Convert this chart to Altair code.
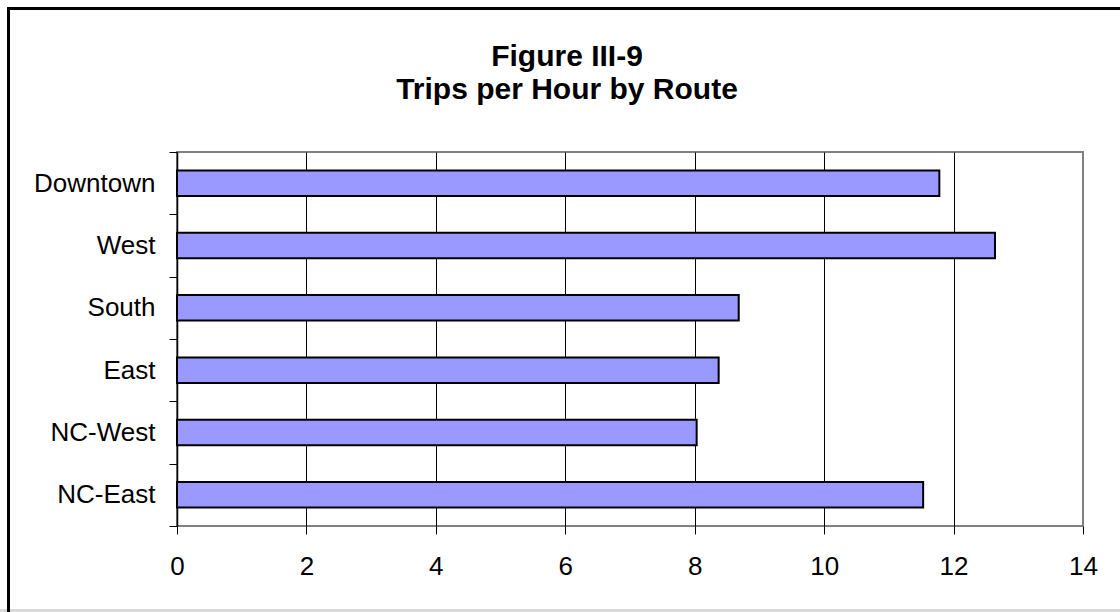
import altair as alt
import pandas as pd

routes = ["Downtown", "West", "South", "East", "NC-West", "NC-East"]
trips_per_hour = [11.78, 12.64, 8.68, 8.37, 8.03, 11.53]
x_ticks = [0, 2, 4, 6, 8, 10, 12, 14]
title_lines = ["Figure III-9", "Trips per Hour by Route"]

FONT = "Liberation Sans"

df = pd.DataFrame({"route": routes, "trips": trips_per_hour})
one = pd.DataFrame({"k": [0]})

bars = alt.Chart(df).mark_bar(
    color="#9999FF", stroke="black", strokeWidth=2,
    height=alt.RelativeBandSize(0.41),
).encode(
    x=alt.X("trips:Q",
            scale=alt.Scale(domain=[0, 14], nice=False),
            axis=alt.Axis(values=x_ticks, title=None, domain=False,
                          grid=True, gridColor="black", gridWidth=1,
                          gridOpacity={"condition": {"test": "datum.value === 0 || datum.value === 14", "value": 0}, "value": 1},
                          tickColor="black", tickSize=8, tickWidth=1,
                          labelFont=FONT, labelFontSize=26, labelColor="black",
                          labelPadding=19, labelFlush=False)),
    y=alt.Y("route:N", sort=routes,
            scale=alt.Scale(paddingInner=0, paddingOuter=0),
            axis=alt.Axis(title=None, grid=False, tickBand="extent",
                          domainColor="black", domainWidth=1.5,
                          tickColor="black", tickSize=8, tickWidth=1,
                          labelFont=FONT, labelFontSize=26, labelColor="black",
                          labelPadding=14)),
)

title = alt.Chart(one).mark_text(
    text=title_lines, font=FONT, fontSize=30, fontWeight="bold",
    color="black", align="center", baseline="alphabetic", lineHeight=33,
).encode(x=alt.value(390), y=alt.value(-86))

bottom_line = alt.Chart(one).mark_rule(color="#d9d9d9", strokeWidth=3).encode(
    x=alt.value(-180), x2=alt.value(960), y=alt.value(458.5))
top_border = alt.Chart(one).mark_rule(color="black", strokeWidth=3).encode(
    x=alt.value(-170), x2=alt.value(960), y=alt.value(-143.5))
left_border = alt.Chart(one).mark_rule(color="black", strokeWidth=3).encode(
    x=alt.value(-168.5), y=alt.value(-145), y2=alt.value(470))

chart = alt.layer(bars, title, bottom_line, top_border, left_border).properties(
    width=906, height=374,
    padding={"left": 177, "top": 152, "right": 37, "bottom": 86},
    autosize=alt.AutoSizeParams(type="none"),
    background="white",
).configure_view(stroke="#808080", strokeWidth=2)

chart.save("out.html", embed_options={"renderer": "svg", "actions": False})
